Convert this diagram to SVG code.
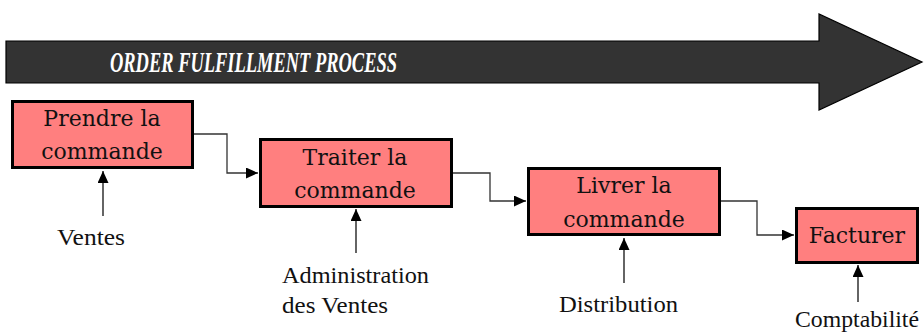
<svg xmlns="http://www.w3.org/2000/svg" width="924" height="333" viewBox="0 0 924 333">
<style>
.box{fill:#FF7F7F;stroke:#000;stroke-width:3}
.bt{font-family:"DejaVu Serif",serif;font-size:22px;fill:#111;text-anchor:middle}
.lb{font-family:"Liberation Serif",serif;font-size:23px;fill:#111}
.conn{fill:none;stroke:#333;stroke-width:1.3}
.up{fill:none;stroke:#111;stroke-width:1.3}
</style>
<defs>
<marker id="ah" markerUnits="userSpaceOnUse" markerWidth="13" markerHeight="12" refX="12" refY="5.5" orient="auto">
<path d="M0,0 L12,5.5 L0,11 z" fill="#000"/>
</marker>
</defs>
<g id="banner">
<path d="M6,41 L819,41 L819,14 L922,62 L819,110 L819,83 L6,83 z" fill="#333333" stroke="#000" stroke-width="1.2"/>
<text x="110" y="72" font-family="Liberation Serif,serif" font-size="29" font-weight="bold" font-style="italic" fill="#fff" textLength="287" lengthAdjust="spacingAndGlyphs">ORDER FULFILLMENT PROCESS</text>
</g>
<g id="n1">
<rect class="box" x="12.5" y="101.5" width="180" height="66"/>
<text class="bt" x="102" y="126">Prendre la</text>
<text class="bt" x="102" y="159">commande</text>
</g>
<g id="n2">
<rect class="box" x="260.5" y="139.5" width="191" height="67"/>
<text class="bt" x="355" y="165">Traiter la</text>
<text class="bt" x="355" y="198">commande</text>
</g>
<g id="n3">
<rect class="box" x="528.5" y="168.5" width="191" height="66"/>
<text class="bt" x="624" y="193">Livrer la</text>
<text class="bt" x="624" y="227">commande</text>
</g>
<g id="n4">
<rect class="box" x="796.5" y="208.5" width="121" height="54"/>
<text class="bt" x="857" y="243">Facturer</text>
</g>
<g id="l1"><text class="lb" x="57" y="245" textLength="68" lengthAdjust="spacingAndGlyphs">Ventes</text></g>
<g id="l2">
<text class="lb" x="282" y="283" textLength="147" lengthAdjust="spacingAndGlyphs">Administration</text>
<text class="lb" x="282" y="313" textLength="106" lengthAdjust="spacingAndGlyphs">des Ventes</text>
</g>
<g id="l3"><text class="lb" x="559" y="312" textLength="119" lengthAdjust="spacingAndGlyphs">Distribution</text></g>
<g id="l4"><text class="lb" x="795" y="327" textLength="124" lengthAdjust="spacingAndGlyphs">Comptabilité</text></g>
<g id="connectors">
<path class="conn" d="M194,134 H227 V173 H258" marker-end="url(#ah)"/>
<path class="conn" d="M453,173 H490 V201 H526" marker-end="url(#ah)"/>
<path class="conn" d="M721,201 H757 V235 H794" marker-end="url(#ah)"/>
<path class="up" d="M103,216 V171" marker-end="url(#ah)"/>
<path class="up" d="M356,253 V209" marker-end="url(#ah)"/>
<path class="up" d="M624,283 V238" marker-end="url(#ah)"/>
<path class="up" d="M858,302 V265" marker-end="url(#ah)"/>
</g>
</svg>
